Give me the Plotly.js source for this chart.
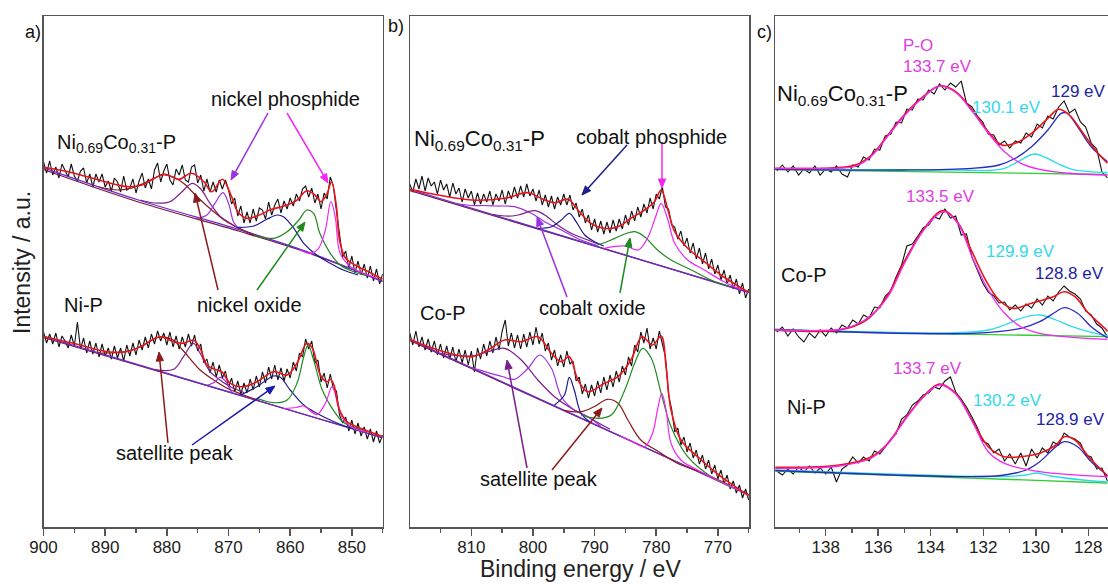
<!DOCTYPE html>
<html><head><meta charset="utf-8">
<script src="https://cdn.plot.ly/plotly-3.0.1.min.js"></script>
<style>html,body{margin:0;padding:0;background:#fff}#chart{width:1108px;height:584px}</style>
</head><body><div id="chart"></div>
<script>
// ---------- binding-energy grids of the measured spectra ----------
const energyNi2p = [900,899.5,899,898.5,898,897.5,897,896.5,896,895.5,895,894.5,894,893.5,893,892.5,892,891.5,891,890.5,890,889.5,889,888.5,888,887.5,887,886.5,886,885.5,885,884.5,884,883.5,883,882.5,882,881.5,881,880.5,880,879.5,879,878.5,878,877.5,877,876.5,876,875.5,875,874.5,874,873.5,873,872.5,872,871.5,871,870.5,870,869.5,869,868.5,868,867.5,867,866.5,866,865.5,865,864.5,864,863.5,863,862.5,862,861.5,861,860.5,860,859.5,859,858.5,858,857.5,857,856.5,856,855.5,855,854.5,854,853.5,853,852.5,852,851.5,851,850.5,850,849.5,849,848.5,848,847.5,847,846.5,846,845.5,845];
const energyCo2p = [820,819.5,819,818.5,818,817.5,817,816.5,816,815.5,815,814.5,814,813.5,813,812.5,812,811.5,811,810.5,810,809.5,809,808.5,808,807.5,807,806.5,806,805.5,805,804.5,804,803.5,803,802.5,802,801.5,801,800.5,800,799.5,799,798.5,798,797.5,797,796.5,796,795.5,795,794.5,794,793.5,793,792.5,792,791.5,791,790.5,790,789.5,789,788.5,788,787.5,787,786.5,786,785.5,785,784.5,784,783.5,783,782.5,782,781.5,781,780.5,780,779.5,779,778.5,778,777.5,777,776.5,776,775.5,775,774.5,774,773.5,773,772.5,772,771.5,771,770.5,770,769.5,769,768.5,768,767.5,767,766.5,766,765.5,765];
const energyP2p = [139.86,139.65,139.44,139.24,139.03,138.83,138.62,138.41,138.21,138.00,137.79,137.59,137.38,137.17,136.97,136.76,136.56,136.35,136.14,135.94,135.73,135.52,135.32,135.11,134.91,134.70,134.49,134.29,134.08,133.87,133.67,133.46,133.25,133.05,132.84,132.64,132.43,132.22,132.02,131.81,131.60,131.40,131.19,130.99,130.78,130.57,130.37,130.16,129.95,129.75,129.54,129.34,129.13,128.92,128.72,128.51,128.30,128.10,127.89,127.68,127.48,127.27];

// ---------- measured intensities (arbitrary units) ----------
const ni2pNiCoP = [365,354,366,352,360,349,363,357,350,363,351,346,356,359,344,353,340,353,345,353,340,346,336,349,345,335,351,337,339,348,334,346,354,339,348,338,357,364,345,356,363,347,342,358,352,362,347,345,360,362,344,352,336,348,335,345,335,347,338,347,337,323,329,311,321,304,315,304,318,306,319,317,308,325,312,322,328,314,326,318,329,321,333,326,338,341,330,339,324,333,318,334,328,350,341,316,292,270,276,259,271,254,266,252,263,249,261,246,258,243,253];
const ni2pNiP = [195,184,193,183,194,180,191,186,179,192,181,205,178,189,174,186,173,184,170,183,171,179,168,181,169,179,166,182,171,184,172,187,177,190,179,193,183,196,186,194,182,195,180,191,178,190,180,193,181,192,176,183,164,168,154,165,150,162,149,156,140,149,135,146,133,144,134,148,137,151,140,155,144,160,148,162,147,159,146,158,149,165,156,174,170,188,178,186,164,167,145,154,139,153,138,136,112,104,110,96,107,93,104,91,100,88,98,85,96,84,92];
const co2pNiCoP = [343,335,348,338,351,336,349,341,345,333,347,337,343,330,344,333,339,325,338,329,336,322,334,323,333,325,336,322,333,326,337,323,336,328,340,329,341,330,343,331,338,326,337,322,332,320,331,318,330,322,333,322,332,317,324,310,318,304,312,297,308,295,306,293,305,294,307,296,308,298,312,302,316,306,320,310,323,314,329,318,333,328,340,320,318,302,300,288,296,281,289,274,284,268,279,263,274,258,268,253,262,247,257,243,252,238,248,233,244,229,238];
const co2pCoP = [194,182,196,180,190,177,188,175,186,172,183,169,181,168,180,165,178,164,177,162,176,155,179,168,183,171,186,174,190,177,196,207,181,194,179,192,178,193,180,195,182,200,183,194,176,184,167,177,161,172,160,176,163,166,146,150,133,143,129,142,131,146,134,150,137,152,140,156,145,161,152,170,161,182,175,195,184,199,178,189,178,196,183,170,132,118,95,99,82,90,75,84,69,77,63,72,58,67,53,62,48,57,43,52,38,46,34,42,29,38,27];
const p2pNiCoP = [356,362,355,361,352,358,354,361,352,358,355,361,353,350,362,360,370,367,378,377,391,393,405,404,418,417,428,427,437,433,443,437,444,440,446,424,420,411,405,393,392,382,386,379,386,384,394,390,403,399,411,408,420,426,414,418,405,400,384,378,355,349];
const p2pCoP = [195,200,191,198,190,185,194,189,197,191,199,194,202,199,207,203,212,209,220,219,231,236,250,262,281,283,291,299,302,310,308,318,309,311,292,293,270,256,244,235,231,224,225,217,222,216,223,219,228,222,231,226,235,241,236,233,228,216,212,203,199,190];
const p2pNiP = [56,52,58,53,60,55,61,54,59,53,60,45,58,62,70,64,70,66,76,73,80,88,93,108,112,122,126,132,134,140,138,146,150,135,128,120,110,99,86,83,74,78,66,73,63,74,61,78,69,79,74,85,82,94,90,88,84,72,70,58,59,46];

// ---------- fitted envelopes and components: panel a, Ni0.69Co0.31-P ----------
const aTopFitE = [900,896,892,888,886,884,882,880.5,879,878,876,874,872.7,871,869.5,868.5,867,865,863,861,859,857.3,856,855,854,853.3,852.5,852,851,849,847,845];
const aTopFitI = [359.7,355.3,348.7,342,340.3,342,348.7,353,349.7,347.7,353.7,345.3,335.3,347.7,330.3,315.3,308.7,312,317.7,321,326.3,336.3,332,325.3,333.7,345.3,320.3,287,268.7,260.3,254.3,247.7];
const aTopBgE = [900,884.6,868.1,857.3,845];
const aTopBgI = [359.2,327,297,275.3,245.3];
const aTopBg2I = [357.5,325,295.5,274.5,245.8];
const aTopSatE = [891,888,886,884,882,880.5,879,877.3,875.1,872.4,870.3,868,865];
const aTopSatI = [340,337,338.5,343,349,352,350,343.7,330.3,315.3,305.3,298,290];
const aTopPurE = [884.3,882,879.5,877.8,875.9,874.6,873,871.3,869.7,868.1,866];
const aTopPurI = [327,324,325.3,333.7,343.7,338.7,323.7,310.3,303.7,297.7,292.5];
const aTopVioE = [875.1,873.5,872.2,870.9,870,869.2,868.4];
const aTopVioI = [308.7,312,323.7,334.3,323.7,305.3,298.7];
const aTopNavE = [868.6,865.9,863.8,862.1,861.1,859.4,857.8,855.7,853.5,851.4,849];
const aTopNavI = [299.7,301,307.7,312,310.3,298.7,283.7,272,263.7,257,252];
const aTopGrnE = [865.9,862.7,860.5,858.6,857.3,856.2,855.2,853.5,851.9,849.7,847.5];
const aTopGrnI = [292,288.7,295.3,307,317,313.7,293.7,273.7,262,255.3,251];
const aTopMagE = [858.4,856.7,855.4,854.3,853.4,852.7,851.9,850.2,848.1,846];
const aTopMagI = [277,273.7,278.7,297,325.3,310.3,273.7,260.3,253.7,249];

// ---------- panel a, Ni-P ----------
const aBotFitE = [900,895.2,889.7,886.5,884.3,881.1,878.9,877.3,875.7,874.6,873.5,871.9,871.1,869.7,867.6,865.4,862.7,860.5,858.9,857.3,856.4,855.1,854,853.5,852.9,852.1,850.8,848.6,845];
const aBotFitI = [190.5,183.7,175.3,175.3,180.3,190.3,185.3,183.7,187,178.7,162,157,155.3,143.7,140.3,145.3,155.3,152,163.7,183.7,178.7,152,145.3,147.7,142,118.7,105.3,98.7,90.5];
const aBotBgE = [900,845];
const aBotBgI = [190.7,89];
const aBotBg2I = [189.5,89.5];
const aBotSatE = [891,888,886,884,882.5,881.1,879,877.3,874.6,872.4,870.3,868,865];
const aBotSatI = [174,174.5,176.5,181,186.5,190,187,176,157,147,139,133,126.5];
const aBotPurE = [882,878.9,877.3,875.7,874.6,873,871.4,869.7,867.5];
const aBotPurI = [157.3,157.7,170.3,183.7,173.7,155.3,147,140.3,134.5];
const aBotVioE = [873.5,872.2,871.4,870.5,869.5];
const aBotVioI = [141.6,145,149.7,146,134.3];
const aBotNavE = [868.1,865.4,862.7,861.6,860,857.8,855.7,852.9,850.8,848.5];
const aBotNavI = [132,140.3,151,149.7,137,122,113.7,105.3,100.3,96.5];
const aBotGrnE = [865.4,862.7,860.5,858.9,857.8,857.1,856.2,854.8,853.2,851.5,849.7,847.5];
const aBotGrnI = [128.7,124.3,127,143.7,170.3,182,167,137,118.7,105.3,99.7,95.5];
const aBotMagE = [861,859,857.8,855.7,854.3,853.2,852.4,851.5,849.7,847.5];
const aBotMagI = [118.5,119.5,121,112.5,123.7,140.3,127,108.7,98.7,95];

// ---------- panel b, Ni0.69Co0.31-P ----------
const bTopFitE = [820,815.4,810,804.6,800.8,798.1,796.5,794.3,792.7,790.6,788.4,786.2,784.1,781.9,780.3,779.2,778.1,777,774.9,772.2,769.5,765];
const bTopFitI = [337.7,332,327,328.7,334.3,327,324.3,327.7,317,303.7,298.7,300.3,308.7,317,325.3,337,317,295.3,278.7,265.3,252,234.6];
const bTopBgE = [820,765];
const bTopBgI = [337.7,234.3];
const bTopBg2I = [336.5,234.8];
const bTopVioE = [812.5,810,808,806,803,800.3,798.1,795.4,792.2,789.5];
const bTopVioI = [323.5,321.5,321.5,321,320.3,313.7,305.3,297,287,281.5];
const bTopPurE = [806.5,804,802.4,799.7,798.1,796,793.8,791.1,789];
const bTopPurI = [312.5,310.8,312,316.3,312,302,293.7,287,282];
const bTopNavE = [799.2,797,795.4,794.1,793,791.6,790,788.5];
const bTopNavI = [298.7,300.3,307,313.7,305.3,292,285.3,281];
const bTopGrnE = [789.5,787.3,785.1,783.5,781.9,779.8,777.6,774.3,771.1,768];
const bTopGrnI = [282,287,293,295.3,290.3,277,267,257,247,240.5];
const bTopMagE = [788.4,785.1,782.9,781.3,780,779.2,778.1,777,774.9,772.2,769,766];
const bTopMagI = [278.7,281,277,290.3,312,323.7,307,283.7,267,257,245.3,237];

// ---------- panel b, Co-P ----------
const bBotFitE = [820,815.4,810,807.3,804.6,801.9,799.2,797,795.4,794.1,792.7,791.1,788.4,786.2,784.1,782.3,780.6,779.2,778.4,777.6,776,773.3,769.5,765];
const bBotFitI = [187.7,177,170.3,177,187,185.3,190.3,173.7,165.3,170.3,147,135.3,143.7,150.3,167,190.3,182,191,160.3,117,87,70.3,50.3,31.5];
const bBotBgE = [820,765];
const bBotBgI = [187.7,32];
const bBotBg2I = [186.5,32.5];
const bBotPurE = [815,810,807.3,804.6,801.9,799.2,796.5,793.8,791.7,789.5,787.5];
const bBotPurI = [173.5,171,175.3,178.7,167,147,130.3,118.7,112,104.5,97.7];
const bBotVioE = [810,805,803,800.8,798.9,797,795.4,793.3,791.1,789];
const bBotVioI = [159.4,150.5,147.7,158.7,172,158.7,130.3,117,110.3,100.8];
const bBotNavE = [796.5,794.9,794.1,793.3,792.2,790.8];
const bBotNavI = [122,132,149.7,137,113.7,105.3];
const bBotWinE = [794.9,792.2,790.1,787.9,786.2,784.6,782.5,779.8,776.5,772.2,768];
const bBotWinI = [116.7,115.3,120.3,127.7,123.7,107,87,76,63.5,53.5,41.5];
const bBotGrnE = [792.2,789.5,787.3,785.1,783.5,782.2,780.8,779.2,777.6,774.9,771.1,766.8];
const bBotGrnI = [112,108.7,112,137,163.7,178.7,168.7,133.7,100.3,70.3,50.3,37.1];
const bBotMagE = [785.7,784.1,781.9,780.6,779.8,779.1,778.4,777.6,776,773.3,769,766];
const bBotMagI = [90.6,86.3,80.3,93.7,117,133.7,117,83.7,67,57,43.8,35.5];

// ---------- panel c, P 2p ----------
const cTopFitE = [139.92,138.10,136.87,136.25,135.63,135.01,134.29,133.67,133.05,132.43,131.81,131.29,130.78,130.16,129.54,129.13,128.72,128.20,127.68,127.27];
const cTopFitI = [358.7,358.7,362,372,392,412,430.3,441,435.3,417,395.3,382,383.7,393.7,408.7,417.7,412,393.7,375.3,363.7];
const cTopPOE = [139.92,138,137.48,136.87,136.25,135.63,135.01,134.29,133.67,133.05,132.43,131.81,131.19,130.57,129.85,128.61,127.27];
const cTopPOI = [358.7,358.7,358.9,360.5,371,391,411,429.5,441,434.5,416,394,375.3,363.7,357.7,353.5,352];
const cTopCyE = [139.92,132.84,131.81,131.19,130.68,130.06,129.64,129.13,128.61,127.99,127.27];
const cTopCyI = [357.7,357,356.5,358.7,365.3,373,369.7,363,357.7,355.3,354.5];
const cTopBlE = [139.92,135.01,132.43,131.40,130.78,130.16,129.54,129.03,128.82,128.41,127.89,127.27];
const cTopBlI = [357.7,357,358.7,362,368.7,380.3,397,413.7,414,400.3,380.3,365.3];
const cTopGrE = [139.92,127.27];
const cTopGrI = [357.3,352.5];

const cMidFitE = [139.92,137.48,136.45,135.63,135.01,134.29,133.67,133.46,132.95,132.43,131.91,131.40,130.88,130.16,129.33,128.92,128.51,127.99,127.37,127.27];
const cMidFitI = [197,197,207,232,265.3,297,315.3,316.3,303.7,275.3,247,227,218.7,223.7,230.3,235.3,230.3,213.7,198.7,195.5];
const cMidPOE = [139.92,137.48,136.87,136.25,135.63,135.01,134.29,133.51,132.95,132.43,131.81,131.19,130.57,129.85,128.61,127.27];
const cMidPOI = [197,197.5,202,212,230.3,263,296,315.3,303,270.3,237,213.7,200.3,193.7,189.7,187.7];
const cMidCyE = [139.92,133.05,131.81,131.19,130.57,129.85,129.23,128.61,127.99,127.27];
const cMidCyI = [197.5,194.3,197,202,208.7,212,207,200.3,195.3,191];
const cMidBlE = [139.92,132.43,130.57,129.85,129.23,128.92,128.41,127.89,127.27];
const cMidBlI = [197.5,193.7,198.7,205.3,215.3,219.3,213.7,200.3,189];
const cMidGrE = [139.92,127.27];
const cMidGrI = [196.5,190.3];

const cBotFitE = [139.92,137.48,136.25,135.63,135.01,134.29,133.67,133.05,132.43,131.81,131.19,130.57,129.85,129.23,128.92,128.51,127.99,127.37,127.27];
const cBotFitI = [59.7,62,70.3,83.7,107,130.3,143,133.7,107,80.3,70.3,70.3,73.7,82,90.3,87,70.3,53.7,51];
const cBotPOE = [139.92,137.48,136.25,135.63,135.01,134.29,133.67,133.05,132.43,131.81,131.19,129.85,127.27];
const cBotPOI = [58.7,61,69,83,106,129.5,142,133,106,75.3,63.7,55.3,50.3];
const cBotCyE = [139.92,131.29,130.37,129.95,129.44,128.20,127.27];
const cBotCyI = [57,50.5,52,54,51,47,45];
const cBotBlE = [139.92,132.43,131.19,130.37,129.85,129.23,128.92,128.41,127.89,127.37,127.27];
const cBotBlI = [56.5,50.3,52,57,65.3,80.3,85.3,80.3,65.3,53.7,51];
const cBotGrE = [139.92,127.27];
const cBotGrI = [56,44];

// ---------- colours ----------
const C = {
  data:'#111111', fit:'#e8141c', wine:'#8b1a1a', purple:'#7a1f8a', violet:'#9b30e0',
  navy:'#1c1c8f', green:'#1e8a1e', magenta:'#f028f0', bgPurple:'#6a2bd0', bgWine:'#7a1a3a',
  cyan:'#2adbe8', blue:'#2a2ac0', lime:'#33cc33'
};

function line(ax, x, y, color, width, shape) {
  return {type:'scatter', mode:'lines', x:x, y:y, xaxis:'x'+ax, yaxis:'y'+ax,
    line:{color:color, width:width, shape:shape||'spline', smoothing:1},
    hoverinfo:'skip', showlegend:false};
}

const traces = [
  // panel a
  line('', energyNi2p, ni2pNiCoP, C.data, 1.1, 'linear'),
  line('', energyNi2p, ni2pNiP, C.data, 1.1, 'linear'),
  line('', aTopBgE, aTopBg2I, C.bgWine, 1.3), line('', aTopBgE, aTopBgI, C.bgPurple, 1.3),
  line('', aTopSatE, aTopSatI, C.wine, 1.2), line('', aTopPurE, aTopPurI, C.purple, 1.2),
  line('', aTopVioE, aTopVioI, C.violet, 1.2), line('', aTopNavE, aTopNavI, C.navy, 1.2),
  line('', aTopGrnE, aTopGrnI, C.green, 1.2), line('', aTopMagE, aTopMagI, C.magenta, 1.2),
  line('', aTopFitE, aTopFitI, C.fit, 1.6),
  line('', aBotBgE, aBotBg2I, C.bgWine, 1.3), line('', aBotBgE, aBotBgI, C.bgPurple, 1.3),
  line('', aBotSatE, aBotSatI, C.wine, 1.2), line('', aBotPurE, aBotPurI, C.purple, 1.2),
  line('', aBotVioE, aBotVioI, C.violet, 1.2), line('', aBotNavE, aBotNavI, C.navy, 1.2),
  line('', aBotGrnE, aBotGrnI, C.green, 1.2), line('', aBotMagE, aBotMagI, C.magenta, 1.2),
  line('', aBotFitE, aBotFitI, C.fit, 1.6),
  // panel b
  line('2', energyCo2p, co2pNiCoP, C.data, 1.1, 'linear'),
  line('2', energyCo2p, co2pCoP, C.data, 1.1, 'linear'),
  line('2', bTopBgE, bTopBg2I, C.bgWine, 1.3), line('2', bTopBgE, bTopBgI, C.bgPurple, 1.3),
  line('2', bTopVioE, bTopVioI, C.violet, 1.2), line('2', bTopPurE, bTopPurI, C.purple, 1.2),
  line('2', bTopNavE, bTopNavI, C.navy, 1.2), line('2', bTopGrnE, bTopGrnI, C.green, 1.2),
  line('2', bTopMagE, bTopMagI, C.magenta, 1.2),
  line('2', bTopFitE, bTopFitI, C.fit, 1.6),
  line('2', bBotBgE, bBotBg2I, C.bgWine, 1.3), line('2', bBotBgE, bBotBgI, C.bgPurple, 1.3),
  line('2', bBotPurE, bBotPurI, C.purple, 1.2), line('2', bBotVioE, bBotVioI, C.violet, 1.2),
  line('2', bBotNavE, bBotNavI, C.navy, 1.2), line('2', bBotWinE, bBotWinI, C.wine, 1.2),
  line('2', bBotGrnE, bBotGrnI, C.green, 1.2), line('2', bBotMagE, bBotMagI, C.magenta, 1.2),
  line('2', bBotFitE, bBotFitI, C.fit, 1.6),
  // panel c
  line('3', energyP2p, p2pNiCoP, C.data, 1.1, 'linear'),
  line('3', energyP2p, p2pCoP, C.data, 1.1, 'linear'),
  line('3', energyP2p, p2pNiP, C.data, 1.1, 'linear'),
  line('3', cTopGrE, cTopGrI, C.lime, 1.3), line('3', cTopCyE, cTopCyI, C.cyan, 1.3),
  line('3', cTopBlE, cTopBlI, C.blue, 1.3), line('3', cTopFitE, cTopFitI, C.fit, 1.6),
  line('3', cTopPOE, cTopPOI, C.magenta, 1.3),
  line('3', cMidGrE, cMidGrI, C.lime, 1.3), line('3', cMidCyE, cMidCyI, C.cyan, 1.3),
  line('3', cMidBlE, cMidBlI, C.blue, 1.3), line('3', cMidFitE, cMidFitI, C.fit, 1.6),
  line('3', cMidPOE, cMidPOI, C.magenta, 1.3),
  line('3', cBotGrE, cBotGrI, C.lime, 1.3), line('3', cBotCyE, cBotCyI, C.cyan, 1.3),
  line('3', cBotBlE, cBotBlI, C.blue, 1.3), line('3', cBotFitE, cBotFitI, C.fit, 1.6),
  line('3', cBotPOE, cBotPOI, C.magenta, 1.3)
];

// ---------- layout ----------
const W = 1108, H = 584;
const yDom = [1 - 527/H, 1 - 16/H];
const axLine = '#555';
function xAxis(dom, range, dtick, minorDtick, anchor) {
  return {domain:dom, range:range, anchor:anchor, showline:true, linecolor:axLine, linewidth:1.5,
    mirror:true, ticks:'outside', ticklen:7, tickwidth:1.5, tickcolor:axLine, tick0:0, dtick:dtick,
    minor:{ticks:'outside', ticklen:4, tickwidth:1.5, tickcolor:axLine, dtick:minorDtick, tick0:0, showgrid:false},
    showgrid:false, zeroline:false, tickfont:{size:17, color:'#222'}, ticklabeloverflow:'allow',
    ticklabelstandoff:-3, fixedrange:true};
}
function yAxis(anchor, mirror) {
  return {domain:yDom, range:[0,511], anchor:anchor, showline:true, linecolor:axLine, linewidth:1.5,
    mirror:mirror, ticks:'', showticklabels:false, showgrid:false, zeroline:false, fixedrange:true};
}
function txt(px, py, text, size, color, xanchor, angle) {
  return {xref:'paper', yref:'paper', x:px/W, y:1-py/H, text:text, showarrow:false,
    font:{size:size, color:color||'#111'}, xanchor:xanchor||'center', yanchor:'middle', textangle:angle||0};
}
// arrows drawn as a line plus a filled head, positioned in page pixels
function arrowShapes(tx, ty, hx, hy, color) {
  const dx = hx - tx, dy = hy - ty, L = Math.hypot(dx, dy), ux = dx / L, uy = dy / L;
  const hl = 9, hw = 3.6;
  const bx = hx - ux * hl, by = hy - uy * hl;
  const p = (x, y) => (x / W).toFixed(5) + ',' + (1 - y / H).toFixed(5);
  return [
    {type:'line', xref:'paper', yref:'paper', x0:tx/W, y0:1-ty/H, x1:bx/W, y1:1-by/H,
     line:{color:color, width:1.5}},
    {type:'path', xref:'paper', yref:'paper',
     path:'M' + p(hx, hy) + ' L' + p(bx - uy * hw, by + ux * hw) + ' L' + p(bx + uy * hw, by - ux * hw) + ' Z',
     fillcolor:color, line:{color:color, width:1}}
  ];
}
const NiCo = 'Ni<sub>0.69</sub>Co<sub>0.31</sub>-P';
const annotations = [
  txt(33, 32, 'a)', 18), txt(396, 26, 'b)', 18), txt(764, 32, 'c)', 18),
  txt(22, 263, 'Intensity / a.u.', 23, '#222', 'center', -90),
  Object.assign(txt(580, 584, 'Binding energy / eV', 23, '#222'), {yanchor:'bottom'}),
  // panel a
  txt(285, 99, 'nickel phosphide', 20), txt(55, 143, NiCo, 20, '#111', 'left'),
  txt(250, 305, 'nickel oxide', 20), txt(83, 305, 'Ni-P', 20), txt(175, 453, 'satellite peak', 20),
  // panel b
  txt(412, 140, NiCo, 22, '#111', 'left'), txt(651, 137, 'cobalt phosphide', 20),
  txt(593, 308, 'cobalt oxide', 20), txt(443, 313, 'Co-P', 20), txt(539, 479, 'satellite peak', 20),
  // panel c
  txt(918, 45, 'P-O', 17, '#e040e0'), txt(937, 67, '133.7 eV', 17, '#e040e0'),
  txt(775, 95, NiCo, 22, '#111', 'left'),
  txt(1006, 107, '130.1 eV', 17, '#33d8ea'), txt(1078, 92, '129 eV', 17, '#2323a8'),
  txt(940, 197, '133.5 eV', 17, '#e040e0'), txt(1020, 252, '129.9 eV', 17, '#33d8ea'),
  txt(1106, 273, '128.8 eV', 17, '#2323a8', 'right'), txt(804, 275, 'Co-P', 20),
  txt(927, 368, '133.7 eV', 17, '#e040e0'), txt(1007, 400, '130.2 eV', 17, '#33d8ea'),
  txt(1070, 419, '128.9 eV', 17, '#2323a8'), txt(806, 407, 'Ni-P', 20)
];
const shapes = [].concat(
  arrowShapes(268, 113, 231, 180, C.violet), arrowShapes(287, 113, 328, 183, C.magenta),
  arrowShapes(218, 290, 195, 193, C.wine), arrowShapes(257, 290, 305, 222, C.green),
  arrowShapes(168, 443, 159, 352, C.wine), arrowShapes(192, 445, 275, 386, '#1a1ab0'),
  arrowShapes(627, 145, 582, 195, C.navy), arrowShapes(662, 142, 662, 188, C.magenta),
  arrowShapes(567, 297, 537, 217, C.violet), arrowShapes(620, 293, 630, 238, C.green),
  arrowShapes(527, 468, 507, 360, C.purple), arrowShapes(552, 470, 602, 408, C.wine)
);

const layout = {
  width:W, height:H, margin:{l:0, r:0, t:0, b:0}, paper_bgcolor:'#fff', plot_bgcolor:'#fff',
  showlegend:false, font:{family:'"Liberation Sans", Arial, sans-serif', color:'#111'},
  xaxis: xAxis([43.5/W, 382.7/W], [900, 845], 10, 5, 'y'),
  yaxis: yAxis('x', true),
  xaxis2: xAxis([410/W, 749.3/W], [819.95, 764.9], 10, 5, 'y2'),
  yaxis2: yAxis('x2', true),
  xaxis3: xAxis([775/W, 1], [139.93, 127.25], 2, 1, 'y3'),
  yaxis3: yAxis('x3', false),
  annotations: annotations,
  shapes: shapes
};

Plotly.newPlot('chart', traces, layout, {staticPlot:true, displayModeBar:false});
</script>
</body></html>
